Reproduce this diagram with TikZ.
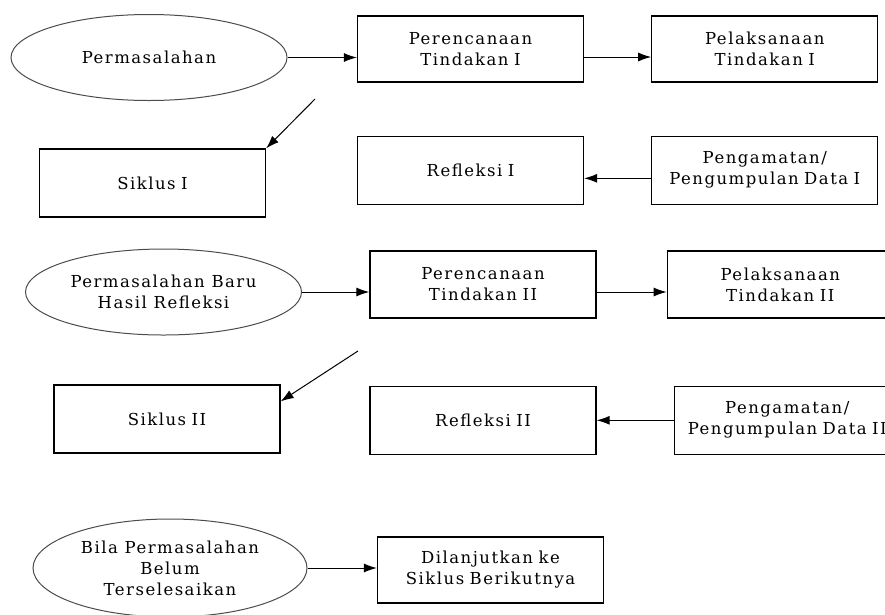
\documentclass[tikz,border=0pt]{standalone}
\usepackage{fontspec}
\setmainfont{DejaVu Serif}[LetterSpace=9]
\usetikzlibrary{arrows.meta,positioning,shapes.geometric}

\begin{document}
\begin{tikzpicture}[
		node distance=1cm,
		font=\fontsize{16.5}{21}\selectfont,
        block/.style={draw, line width=1.3pt, fill=white, minimum height=66pt, minimum width=226pt, text width=216pt, align=center},
        oval/.style={ellipse, draw=black!70, line width=1pt, fill=white, inner sep=0pt, minimum width=276pt, minimum height=86pt, align=center},
        arrow/.style={-{Latex[length=13pt,width=9pt]}, line width=1pt},
	]
		\useasboundingbox (0,0) rectangle (885pt,-614pt);
		\clip (0,0) rectangle (885pt,-614pt);

		\node[oval] (masalah1) at (149pt,-57.5pt) {Permasalahan};
		\node[block] (rencana1) at (470.5pt,-49pt) {Perencanaan\\Tindakan I};
		\node[block, right=67pt of rencana1] (laksana1) {Pelaksanaan\\Tindakan I};
		\node[block, minimum height=68pt, below=53pt of rencana1] (refleksi1) {Refleksi I};
		\node[block, minimum height=68pt, below=53pt of laksana1] (amati1) {Pengamatan/\\Pengumpulan Data I};
		\node[block, minimum height=68pt] (siklus1) at (152.5pt,-183pt) {Siklus I};
		\coordinate (miring1) at (315pt,-99pt);

		\node[oval] (masalah2) at (163.5pt,-292pt) {Permasalahan Baru\\Hasil Refleksi};
		\node[block, minimum height=67pt] (rencana2) at (483pt,-284.5pt) {Perencanaan\\Tindakan II};
		\node[block, minimum height=67pt, right=70pt of rencana2] (laksana2) {Pelaksanaan\\Tindakan II};
		\node[block, minimum height=68pt, below=67pt of rencana2] (refleksi2) {Refleksi II};
		\node[block, minimum height=68pt, right=77pt of refleksi2] (amati2) {Pengamatan/\\Pengumpulan Data II};
		\node[block, minimum height=68pt] (siklus2) at (167pt,-419pt) {Siklus II};
		\coordinate (miring2) at (358pt,-351pt);

		\node[oval, minimum width=274pt, minimum height=98pt] (masalah3) at (170pt,-568pt) {Bila Permasalahan\\Belum\\Terselesaikan};
		\node[block] (lanjut) at (490.5pt,-570pt) {Dilanjutkan ke\\Siklus Berikutnya};

		\draw[arrow] (masalah1.east) -- (masalah1.east -| rencana1.west);
		\draw[arrow] ([yshift=-8pt]rencana1.east) -- ([yshift=-8pt]laksana1.west);
		\draw[arrow] (miring1) -- (siklus1.north east);
		\draw[arrow] ([yshift=-8pt]amati1.west) -- ([yshift=-8pt]refleksi1.east);
		\draw[arrow] (masalah2.east) -- (masalah2.east -| rencana2.west);
		\draw[arrow] ([yshift=-7.5pt]rencana2.east) -- ([yshift=-7.5pt]laksana2.west);
		\draw[arrow] (miring2) -- ([yshift=-17pt]siklus2.north east);
		\draw[arrow] (amati2) -- (refleksi2);
		\draw[arrow] (masalah3.east) -- (masalah3.east -| lanjut.west);
	\end{tikzpicture}
\end{document}
